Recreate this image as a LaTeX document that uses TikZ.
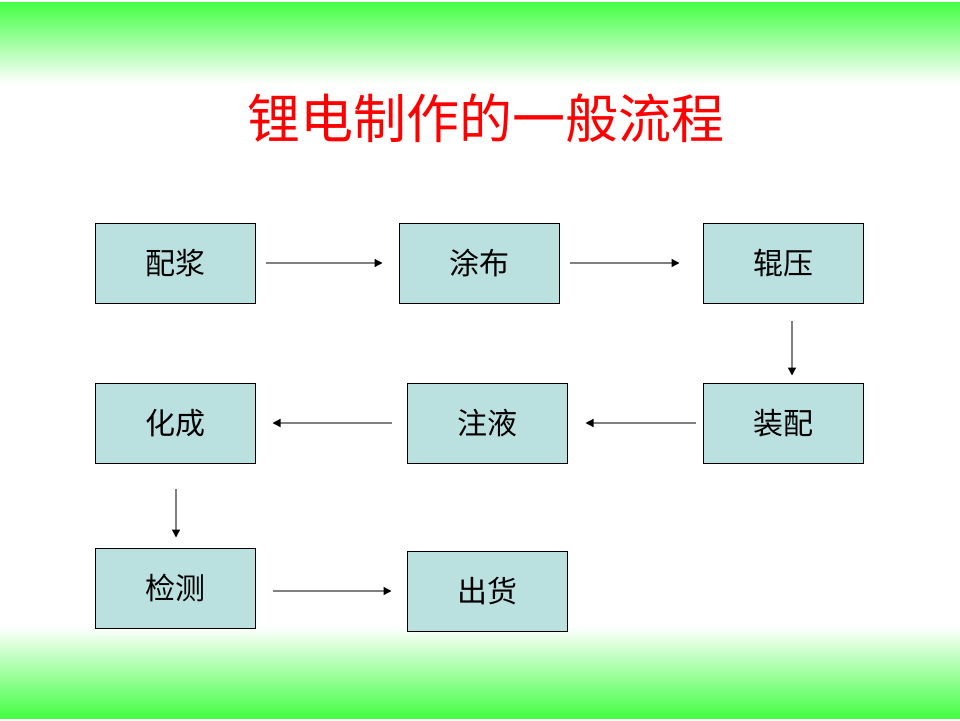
\documentclass[tikz,border=0pt]{standalone}
\usepackage{fontspec}
\setmainfont{Noto Sans CJK SC}
\usetikzlibrary{arrows.meta}
\definecolor{boxfill}{RGB}{186,224,224}
\definecolor{bandgreen}{RGB}{68,255,68}
\begin{document}
\begin{tikzpicture}[x=1pt, y=-1pt,
    stepbox/.style={draw, line width=1pt, fill=boxfill, minimum width=160pt, minimum height=80pt, inner sep=0pt, font=\fontsize{30}{30}\selectfont},
    flow/.style={gray, line width=1.3pt, -{Triangle[length=8pt, width=8pt, color=black]}}]
    % Fondo e bande sfumate
    \useasboundingbox (0,0) rectangle (960,720);
    \fill[white] (0,0) rectangle (960,720);
    \shade[top color=bandgreen, bottom color=white] (0,2) rectangle (960,84);
    \shade[top color=white, bottom color=bandgreen] (0,626) rectangle (960,718);

    % Titolo
    \node[red, font=\fontsize{53}{53}\selectfont] (title) at (486,118) {锂电制作的一般流程};

    % Caselle
    \node[stepbox] (peijiang) at (175,263) {配浆};
    \node[stepbox] (tubu) at (479,263) {涂布};
    \node[stepbox] (gunya) at (783,263) {辊压};
    \node[stepbox] (zhuangpei) at (783,423) {装配};
    \node[stepbox] (zhuye) at (487,423) {注液};
    \node[stepbox] (huacheng) at (175,423) {化成};
    \node[stepbox] (jiance) at (175,588) {检测};
    \node[stepbox] (chuhuo) at (487,591) {出货};

    % Frecce
    \draw[flow, shorten <=10pt, shorten >=16pt] (peijiang) -- (tubu);
    \draw[flow, shorten <=10pt, shorten >=23pt] (tubu) -- (gunya);
    \draw[flow, shorten <=17pt, shorten >=7pt] ([xshift=9pt]gunya.south) -- ([xshift=9pt]zhuangpei.north);
    \draw[flow, shorten <=7pt, shorten >=18pt] (zhuangpei) -- (zhuye);
    \draw[flow, shorten <=15pt, shorten >=17pt] (zhuye) -- (huacheng);
    \draw[flow, shorten <=25pt, shorten >=10pt] ([xshift=1pt]huacheng.south) -- ([xshift=1pt]jiance.north);
    \draw[flow, shorten <=17pt, shorten >=15pt] (jiance.east |- chuhuo.west) -- (chuhuo.west);
\end{tikzpicture}
\end{document}
